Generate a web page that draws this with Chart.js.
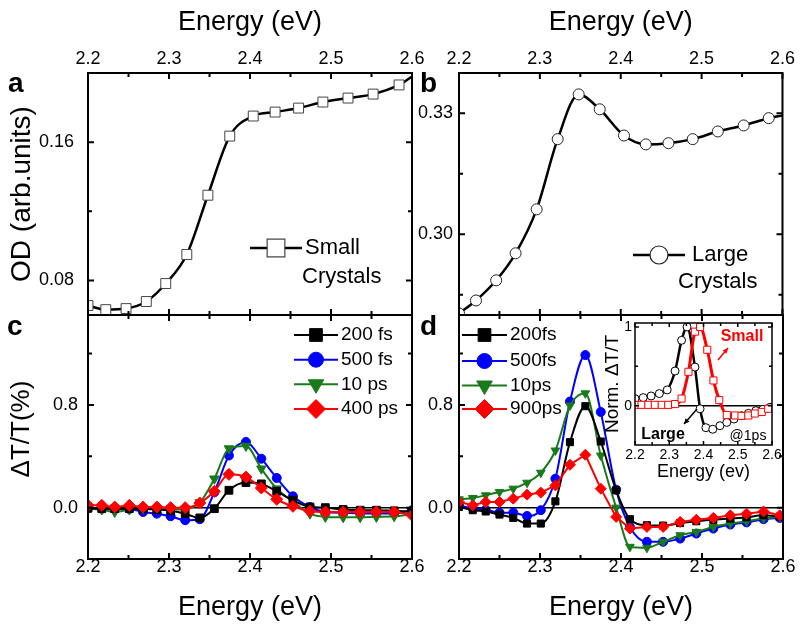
<!DOCTYPE html>
<html>
<head>
<meta charset="utf-8">
<script src="https://cdn.jsdelivr.net/npm/chart.js@4.4.1/dist/chart.umd.min.js"></script>
<style>
  html, body { margin: 0; padding: 0; background: #fff; }
  #wrap { position: relative; width: 800px; height: 626px; overflow: hidden; }
  #wrap canvas { position: absolute; left: 0; top: 0; }
</style>
</head>
<body>
<div id="wrap">
  <canvas id="chartA" width="800" height="626"></canvas>
  <canvas id="chartB" width="800" height="626"></canvas>
  <canvas id="chartC" width="800" height="626"></canvas>
  <canvas id="chartD" width="800" height="626"></canvas>
  <canvas id="chartInset" width="800" height="626"></canvas>
</div>
<script>
const FONT = "'Liberation Sans', Arial, sans-serif";

// shared energy axis
const energyTicks = [2.2, 2.3, 2.4, 2.5, 2.6];
const energyMinor = [2.25, 2.35, 2.45, 2.55];

// a: absorption, small crystals
const energySmall = [2.200, 2.222, 2.247, 2.272, 2.296, 2.322, 2.348, 2.375, 2.404, 2.431, 2.460, 2.490, 2.521, 2.552, 2.584, 2.600];
const odSmall = [0.0655, 0.0631, 0.0637, 0.0678, 0.0782, 0.0950, 0.1293, 0.1635, 0.1751, 0.1774, 0.1797, 0.1832, 0.1855, 0.1878, 0.1931, 0.1980];
const odSmallTicks = [0.08, 0.16];
const odSmallMinor = [0.12, 0.20];

// b: absorption, large crystals
const energyLarge = [2.200, 2.221, 2.246, 2.270, 2.296, 2.322, 2.348, 2.374, 2.404, 2.431, 2.459, 2.489, 2.520, 2.552, 2.583, 2.600];
const odLarge = [0.2804, 0.2836, 0.2886, 0.2953, 0.3062, 0.3236, 0.3347, 0.3310, 0.3245, 0.3223, 0.3226, 0.3236, 0.3255, 0.3270, 0.3288, 0.3295];
const odLargeTicks = [0.30, 0.33];
const odLargeMinor = [0.285, 0.315];

// c: dT/T small crystals
const energyC = [2.200, 2.217, 2.233, 2.251, 2.268, 2.285, 2.302, 2.320, 2.338, 2.356, 2.374, 2.395, 2.414, 2.433, 2.453, 2.474, 2.493, 2.515, 2.536, 2.556, 2.578, 2.600];
const small200fs = [-0.005, -0.008, -0.008, -0.008, -0.010, -0.015, -0.025, -0.047, -0.080, -0.008, 0.135, 0.195, 0.185, 0.127, 0.057, 0.005, 0.000, -0.015, -0.020, -0.020, -0.025, -0.030];
const small500fs = [-0.005, -0.008, -0.008, -0.010, -0.034, -0.047, -0.067, -0.098, -0.090, 0.120, 0.406, 0.512, 0.381, 0.231, 0.088, 0.005, -0.034, -0.040, -0.045, -0.045, -0.045, -0.020];
const small10ps = [-0.008, -0.015, -0.034, -0.015, -0.008, -0.010, -0.015, -0.010, 0.040, 0.225, 0.460, 0.480, 0.303, 0.148, 0.049, -0.047, -0.072, -0.075, -0.075, -0.072, -0.068, -0.050];
const small400ps = [0.018, 0.018, 0.005, 0.018, 0.005, 0.005, 0.000, 0.000, 0.036, 0.127, 0.259, 0.238, 0.153, 0.065, 0.010, -0.028, -0.034, -0.034, -0.034, -0.034, -0.034, -0.060];

// d: dT/T large crystals
const energyD = [2.200, 2.217, 2.233, 2.250, 2.267, 2.284, 2.301, 2.319, 2.337, 2.356, 2.375, 2.394, 2.411, 2.432, 2.452, 2.473, 2.493, 2.514, 2.535, 2.555, 2.576, 2.596];
const large200fs = [0.005, -0.020, -0.030, -0.054, -0.080, -0.124, -0.124, 0.049, 0.510, 0.790, 0.515, 0.135, -0.090, -0.137, -0.140, -0.120, -0.106, -0.095, -0.085, -0.075, -0.060, -0.070];
const large500fs = [0.018, -0.005, -0.016, -0.039, -0.039, -0.065, -0.020, 0.225, 0.826, 1.188, 0.745, 0.140, -0.150, -0.266, -0.266, -0.241, -0.202, -0.163, -0.132, -0.115, -0.090, -0.080];
const large10ps = [0.065, 0.075, 0.096, 0.122, 0.148, 0.194, 0.272, 0.445, 0.795, 0.890, 0.406, 0.000, -0.305, -0.313, -0.266, -0.215, -0.189, -0.150, -0.124, -0.106, -0.085, -0.070];
const large900ps = [0.044, 0.018, 0.044, 0.044, 0.070, 0.101, 0.117, 0.173, 0.334, 0.412, 0.148, -0.072, -0.163, -0.150, -0.150, -0.111, -0.094, -0.080, -0.060, -0.047, -0.030, -0.060];
const dtTicks = [0.0, 0.8];
const dtMinor = [-0.4, 0.4, 1.2];

// inset: normalised dT/T at 1 ps
const insetLargeE = [2.200, 2.224, 2.247, 2.271, 2.294, 2.317, 2.336, 2.352, 2.375, 2.390, 2.407, 2.427, 2.448, 2.468, 2.489, 2.511, 2.531, 2.553, 2.573, 2.594];
const insetLargeV = [0.089, 0.102, 0.123, 0.153, 0.200, 0.440, 0.830, 1.000, 0.490, -0.040, -0.280, -0.300, -0.255, -0.213, -0.170, -0.128, -0.098, -0.064, -0.047, -0.021];
const insetSmallE = [2.200, 2.219, 2.239, 2.258, 2.278, 2.297, 2.317, 2.336, 2.356, 2.375, 2.390, 2.411, 2.429, 2.446, 2.468, 2.492, 2.511, 2.531, 2.550, 2.570, 2.589];
const insetSmallV = [0.010, 0.010, 0.010, 0.010, 0.010, 0.010, 0.020, 0.090, 0.430, 0.940, 1.000, 0.710, 0.320, 0.070, -0.120, -0.125, -0.130, -0.125, -0.100, -0.080, -0.040];
const insetTicks = [0, 1];
const insetMinor = [0.5];

const pts = (xs, ys) => xs.map((x, i) => ({ x: x, y: ys[i] }));

function marker(ctx, style, x, y, r, fill, stroke, lw) {
  ctx.save();
  ctx.fillStyle = fill;
  ctx.strokeStyle = stroke;
  ctx.lineWidth = lw;
  ctx.beginPath();
  if (style === 'circle') {
    ctx.arc(x, y, r, 0, Math.PI * 2);
  } else if (style === 'rect') {
    const s = r * Math.SQRT1_2;
    ctx.rect(x - s, y - s, 2 * s, 2 * s);
  } else if (style === 'rectRot') {
    ctx.moveTo(x, y - r); ctx.lineTo(x + r, y); ctx.lineTo(x, y + r); ctx.lineTo(x - r, y); ctx.closePath();
  } else if (style === 'triangleDown') {
    ctx.moveTo(x - r * 0.866, y - r * 0.5); ctx.lineTo(x + r * 0.866, y - r * 0.5); ctx.lineTo(x, y + r); ctx.closePath();
  }
  ctx.fill();
  if (lw > 0) ctx.stroke();
  ctx.restore();
}

function arrow(ctx, x0, y0, x1, y1, color) {
  const a = Math.atan2(y1 - y0, x1 - x0);
  ctx.save();
  ctx.strokeStyle = color; ctx.fillStyle = color; ctx.lineWidth = 1.5;
  ctx.beginPath(); ctx.moveTo(x0, y0); ctx.lineTo(x1, y1); ctx.stroke();
  ctx.beginPath();
  ctx.moveTo(x1, y1);
  ctx.lineTo(x1 - 6 * Math.cos(a - 0.45), y1 - 6 * Math.sin(a - 0.45));
  ctx.lineTo(x1 - 6 * Math.cos(a + 0.45), y1 - 6 * Math.sin(a + 0.45));
  ctx.closePath(); ctx.fill();
  ctx.restore();
}

// frame, inward ticks, zero line, legends and labels; cfg kept in a closure
function decor(o) {
  return {
    id: 'decor',
    beforeDatasetsDraw(chart) {
      if (o.zero === undefined) return;
      const { ctx, chartArea: a, scales: { y } } = chart;
      const py = y.getPixelForValue(o.zero);
      ctx.save();
      ctx.strokeStyle = '#000'; ctx.lineWidth = o.zeroWidth || 1.5;
      ctx.beginPath(); ctx.moveTo(a.left, py); ctx.lineTo(a.right, py); ctx.stroke();
      ctx.restore();
    },
    afterDatasetsDraw(chart) {
      const { ctx, chartArea: a, scales: { x, y } } = chart;
      ctx.save();
      ctx.strokeStyle = '#000';
      ctx.lineWidth = o.tickWidth || 2;
      const xt = (vals, len) => vals.forEach(v => {
        const px = x.getPixelForValue(v);
        ctx.beginPath();
        ctx.moveTo(px, a.top); ctx.lineTo(px, a.top + len);
        ctx.moveTo(px, a.bottom); ctx.lineTo(px, a.bottom - len);
        ctx.stroke();
      });
      const yt = (vals, len) => vals.forEach(v => {
        const py = y.getPixelForValue(v);
        ctx.beginPath();
        ctx.moveTo(a.left, py); ctx.lineTo(a.left + len, py);
        ctx.moveTo(a.right, py); ctx.lineTo(a.right - len, py);
        ctx.stroke();
      });
      xt(o.xMajor || [], o.majorLen || 6);
      xt(o.xMinor || [], o.minorLen || 4);
      yt(o.yMajor || [], o.majorLen || 6);
      yt(o.yMinor || [], o.minorLen || 4);
      ctx.lineWidth = o.frameWidth || 2;
      ctx.strokeRect(a.left, a.top, a.right - a.left, a.bottom - a.top);
      ctx.restore();

      (o.legends || []).forEach(lg => {
        ctx.save();
        ctx.strokeStyle = lg.color; ctx.lineWidth = lg.lineWidth || 2;
        ctx.beginPath(); ctx.moveTo(lg.x0, lg.y); ctx.lineTo(lg.x1, lg.y); ctx.stroke();
        ctx.restore();
        marker(ctx, lg.style, (lg.x0 + lg.x1) / 2, lg.y, lg.r, lg.fill || lg.color, lg.stroke || lg.color, lg.bw || 1);
      });
      (o.texts || []).forEach(t => {
        ctx.save();
        ctx.font = t.font;
        ctx.fillStyle = t.color || '#000';
        ctx.textAlign = t.align || 'left';
        ctx.textBaseline = t.baseline || 'middle';
        if (t.rotate) {
          ctx.translate(t.x, t.y);
          ctx.rotate(t.rotate);
          ctx.fillText(t.text, 0, 0);
        } else {
          ctx.fillText(t.text, t.x, t.y);
        }
        ctx.restore();
      });
      (o.arrows || []).forEach(ar => arrow(ctx, ar[0], ar[1], ar[2], ar[3], ar[4]));
    }
  };
}

function energyAxis(position, height, labelPad, titleText, titleSize, titlePad, tickSize) {
  return {
    type: 'linear', position: position, min: 2.2, max: 2.6,
    afterBuildTicks: s => { s.ticks = energyTicks.map(v => ({ value: v })); },
    afterFit: s => { s.height = height; },
    ticks: { callback: v => v.toFixed(1), color: '#000', font: { family: FONT, size: tickSize, lineHeight: 1 }, padding: labelPad, maxRotation: 0, autoSkip: false },
    grid: { display: false, drawTicks: false },
    border: { display: false },
    title: { display: true, text: titleText, color: '#000', font: { family: FONT, size: titleSize }, padding: titlePad }
  };
}

function valueAxis(min, max, ticks, digits, width, labelPad, title, tickSize) {
  const ax = {
    type: 'linear', position: 'left', min: min, max: max,
    afterBuildTicks: s => { s.ticks = ticks.map(v => ({ value: v })); },
    afterFit: s => { s.width = width; },
    ticks: { callback: v => v.toFixed(digits), color: '#000', font: { family: FONT, size: tickSize, lineHeight: 1 }, padding: labelPad, autoSkip: false },
    grid: { display: false, drawTicks: false },
    border: { display: false },
    title: { display: false }
  };
  if (title) ax.title = { display: true, text: title.text, color: '#000', font: { family: FONT, size: title.size }, padding: { top: title.pad, bottom: 0 } };
  return ax;
}

function series(xs, ys, color, style, r, extra) {
  return Object.assign({
    data: pts(xs, ys),
    borderColor: color, backgroundColor: color, borderWidth: 2,
    pointStyle: style, pointRadius: r, pointBackgroundColor: color,
    pointBorderColor: color, pointBorderWidth: 1,
    cubicInterpolationMode: 'monotone', clip: 0
  }, extra || {});
}

const base = { responsive: false, animation: false, devicePixelRatio: 1, events: [] };
const noLegend = { legend: { display: false }, tooltip: { enabled: false } };

// panel a
new Chart(document.getElementById('chartA'), {
  type: 'line',
  data: { datasets: [series(energySmall, odSmall, '#000', 'rect',
    c => c.dataIndex === odSmall.length - 1 ? 0 : 7,
    { borderWidth: 2.5, pointBackgroundColor: '#fff', pointBorderColor: '#444' })] },
  options: Object.assign({}, base, {
    layout: { padding: { left: 0, top: 0, right: 388, bottom: 311 } },
    scales: {
      x: energyAxis('top', 73, 5, 'Energy (eV)', 27, { top: 6, bottom: 0 }, 18),
      y: valueAxis(0.06, 0.20, odSmallTicks, 2, 88, 14, { text: 'OD (arb.units)', size: 28, pad: 5 }, 18)
    },
    plugins: noLegend
  }),
  plugins: [decor({
    xMajor: energyTicks, xMinor: energyMinor, yMajor: odSmallTicks, yMinor: odSmallMinor,
    legends: [{ x0: 250, x1: 302, y: 248, color: '#000', style: 'rect', r: 12.5, fill: '#fff', stroke: '#444', bw: 1.2, lineWidth: 2.5 }],
    texts: [
      { text: 'a', x: 8, y: 92, font: 'bold 28px ' + FONT, baseline: 'alphabetic' },
      { text: 'Small', x: 305, y: 248, font: '22px ' + FONT },
      { text: 'Crystals', x: 302, y: 277, font: '22px ' + FONT }
    ]
  })]
});

// panel b
new Chart(document.getElementById('chartB'), {
  type: 'line',
  data: { datasets: [series(energyLarge, odLarge, '#000', 'circle',
    c => c.dataIndex === odLarge.length - 1 ? 0 : 5.5,
    { borderWidth: 2.5, pointBackgroundColor: '#fff', pointBorderColor: '#222' })] },
  options: Object.assign({}, base, {
    layout: { padding: { left: 400, top: 0, right: 17, bottom: 311 } },
    scales: {
      x: energyAxis('top', 73, 5, 'Energy (eV)', 27, { top: 6, bottom: 0 }, 18),
      y: valueAxis(0.28, 0.34, odLargeTicks, 2, 59, 6, null, 18)
    },
    plugins: noLegend
  }),
  plugins: [decor({
    xMajor: energyTicks, xMinor: energyMinor, yMajor: odLargeTicks, yMinor: odLargeMinor,
    legends: [{ x0: 633, x1: 685, y: 255, color: '#000', style: 'circle', r: 9, fill: '#fff', stroke: '#222', bw: 1.2, lineWidth: 2.5 }],
    texts: [
      { text: 'b', x: 420, y: 92, font: 'bold 28px ' + FONT, baseline: 'alphabetic' },
      { text: 'Large', x: 692, y: 255, font: '22px ' + FONT },
      { text: 'Crystals', x: 678, y: 282, font: '22px ' + FONT }
    ]
  })]
});

const BLACK = '#000000', BLUE = '#0000ff', GREEN = '#1a7a1a', RED = '#ff0000';

// panel c
new Chart(document.getElementById('chartC'), {
  type: 'line',
  data: { datasets: [
    series(energyC, small400ps, RED, 'rectRot', 6),
    series(energyC, small200fs, BLACK, 'rect', 5.5),
    series(energyC, small10ps, GREEN, 'triangle', 5.5, { pointRotation: 180 }),
    series(energyC, small500fs, BLUE, 'circle', 4.5)
  ] },
  options: Object.assign({}, base, {
    layout: { padding: { left: 0, top: 315, right: 388, bottom: 0 } },
    scales: {
      x: energyAxis('bottom', 67, -1, 'Energy (eV)', 27, { top: 0, bottom: 2 }, 18),
      y: valueAxis(-0.4, 1.5, dtTicks, 1, 88, 10, null, 18)
    },
    plugins: noLegend
  }),
  plugins: [decor({
    zero: 0,
    xMajor: energyTicks, xMinor: energyMinor, yMajor: dtTicks, yMinor: dtMinor,
    legends: [
      { x0: 294, x1: 338, y: 335, color: BLACK, style: 'rect', r: 9 },
      { x0: 294, x1: 338, y: 359.7, color: BLUE, style: 'circle', r: 7.5 },
      { x0: 294, x1: 338, y: 384.3, color: GREEN, style: 'triangleDown', r: 9 },
      { x0: 294, x1: 338, y: 409, color: RED, style: 'rectRot', r: 9.5 }
    ],
    texts: [
      { text: 'ΔT/T(%)', x: 22, y: 429, font: '26px ' + FONT, align: 'center', rotate: -Math.PI / 2 },
      { text: 'c', x: 7, y: 335, font: 'bold 28px ' + FONT, baseline: 'alphabetic' },
      { text: '200 fs', x: 341, y: 335, font: '19px ' + FONT },
      { text: '500 fs', x: 341, y: 359.7, font: '19px ' + FONT },
      { text: '10 ps', x: 341, y: 384.3, font: '19px ' + FONT },
      { text: '400 ps', x: 341, y: 409, font: '19px ' + FONT }
    ]
  })]
});

// panel d
new Chart(document.getElementById('chartD'), {
  type: 'line',
  data: { datasets: [
    series(energyD, large900ps, RED, 'rectRot', 5.5, { cubicInterpolationMode: 'default', tension: 0 }),
    series(energyD, large200fs, BLACK, 'rect', 5),
    series(energyD, large10ps, GREEN, 'triangle', 5, { pointRotation: 180 }),
    series(energyD, large500fs, BLUE, 'circle', 4.5)
  ] },
  options: Object.assign({}, base, {
    layout: { padding: { left: 400, top: 315, right: 17, bottom: 0 } },
    scales: {
      x: energyAxis('bottom', 67, -1, 'Energy (eV)', 27, { top: 0, bottom: 2 }, 18),
      y: valueAxis(-0.4, 1.5, dtTicks, 1, 59, 6, null, 18)
    },
    plugins: noLegend
  }),
  plugins: [decor({
    zero: 0,
    xMajor: energyTicks, xMinor: energyMinor, yMajor: dtTicks, yMinor: dtMinor,
    legends: [
      { x0: 462, x1: 507, y: 335, color: BLACK, style: 'rect', r: 9 },
      { x0: 462, x1: 507, y: 361, color: BLUE, style: 'circle', r: 7.5 },
      { x0: 462, x1: 507, y: 385.5, color: GREEN, style: 'triangleDown', r: 9 },
      { x0: 462, x1: 507, y: 409, color: RED, style: 'rectRot', r: 9.5 }
    ],
    texts: [
      { text: 'd', x: 420, y: 335, font: 'bold 28px ' + FONT, baseline: 'alphabetic' },
      { text: '200fs', x: 510, y: 335, font: '19px ' + FONT },
      { text: '500fs', x: 510, y: 361, font: '19px ' + FONT },
      { text: '10ps', x: 510, y: 385.5, font: '19px ' + FONT },
      { text: '900ps', x: 510, y: 409, font: '19px ' + FONT }
    ]
  })]
});

// inset of d
new Chart(document.getElementById('chartInset'), {
  type: 'line',
  data: { datasets: [
    series(insetSmallE, insetSmallV, RED, 'rect', 5, { borderWidth: 3, pointBackgroundColor: '#fff', pointBorderColor: RED }),
    series(insetLargeE, insetLargeV, BLACK, 'circle', 4, { borderWidth: 2.5, pointBackgroundColor: '#fff', pointBorderColor: BLACK })
  ] },
  options: Object.assign({}, base, {
    layout: { padding: { left: 600, top: 323, right: 28, bottom: 141 } },
    scales: {
      x: energyAxis('bottom', 40, 3, 'Energy (ev)', 18, { top: 0, bottom: 2 }, 14),
      y: valueAxis(-0.5, 1.05, insetTicks, 0, 35, 3, { text: 'Norm. ΔT/T', size: 19, pad: 1 }, 14)
    },
    plugins: noLegend
  }),
  plugins: [decor({
    zero: 0, zeroWidth: 1.5, frameWidth: 1.5, tickWidth: 1.5, majorLen: 4, minorLen: 3,
    xMajor: energyTicks, xMinor: energyMinor, yMajor: insetTicks, yMinor: insetMinor,
    texts: [
      { text: 'Small', x: 742, y: 337, font: 'bold 16px ' + FONT, color: RED, align: 'center' },
      { text: 'Large', x: 663, y: 435, font: 'bold 16px ' + FONT, align: 'center' },
      { text: '@1ps', x: 748, y: 436, font: '14px ' + FONT, align: 'center' }
    ],
    arrows: [[718, 360, 728, 348, RED], [697, 409, 684, 424, BLACK]]
  })]
});
</script>
</body>
</html>
